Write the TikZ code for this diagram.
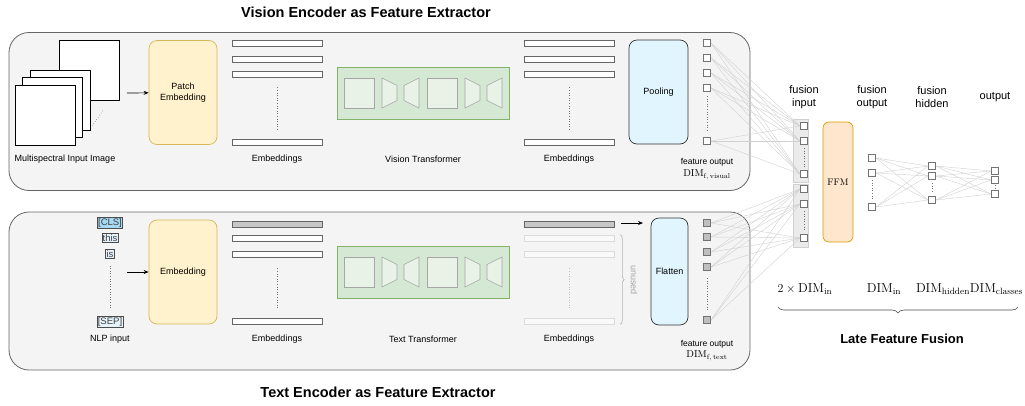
\documentclass[tikz,border=0pt]{standalone}
\usepackage{fontspec}
\usepackage{tikz}
\usetikzlibrary{arrows.meta,decorations.pathreplacing}
\newfontfamily\arial{Liberation Sans}
\definecolor{panelgray}{HTML}{F4F4F4}
\definecolor{patchfill}{HTML}{FFF2CC}
\definecolor{patchline}{HTML}{D6B656}
\definecolor{poolfill}{HTML}{E1F5FE}
\definecolor{tffill}{HTML}{D5E8D4}
\definecolor{tfline}{HTML}{82B366}
\definecolor{ffmfill}{HTML}{FFE6CC}
\definecolor{ffmline}{HTML}{D79B00}
\definecolor{clsfill}{HTML}{A8D8F2}
\definecolor{tokfill}{HTML}{E6F3FA}
\tikzset{
  tfinner/.pic={
    \foreach \dx in {-64,19}{
      \draw[inner] (\dx-15,-15) rectangle (\dx+15,15);
      \draw[inner] (\dx+23,-15) -- (\dx+38,-7.5) -- (\dx+38,7.5) -- (\dx+23,15) -- cycle;
      \draw[inner] (\dx+45,-7.5) -- (\dx+60,-15) -- (\dx+60,15) -- (\dx+45,7.5) -- cycle;
    }}
}

\begin{document}
\begin{tikzpicture}[x=1pt,y=-1pt,
    panel/.style={draw=black!60,fill=panelgray,rounded corners=20pt,line width=.8pt,
      minimum width=741pt,minimum height=158pt},
    lbl/.style={font=\arial\fontsize{9}{10.5}\selectfont,align=center,inner sep=1pt},
    small/.style={font=\arial\fontsize{8.5}{10}\selectfont,align=center,inner sep=1pt},
    head/.style={font=\arial\bfseries\fontsize{14.5}{17}\selectfont},
    flabel/.style={font=\arial\fontsize{11}{12.5}\selectfont,align=center},
    dimlbl/.style={font=\fontsize{13}{15}\selectfont,inner sep=0pt},
    img/.style={draw,fill=white,line width=.8pt,minimum size=60pt},
    yblock/.style={lbl,draw=patchline,fill=patchfill,rounded corners=8pt,line width=.7pt,
      minimum width=68pt,minimum height=104pt},
    bblock/.style={lbl,draw=black!80,fill=poolfill,rounded corners=8pt,line width=.7pt,
      minimum height=104pt},
    tfbox/.style={draw=tfline,fill=tffill,line width=.7pt,minimum width=172pt,minimum height=52pt},
    inner/.style={draw=black!35,fill=white!45!tffill,line width=.6pt},
    bar/.style={draw=black!60,fill=white,minimum width=90pt,minimum height=6pt,inner sep=0pt,line width=.6pt},
    gbar/.style={bar,fill=black!22},
    fbar/.style={bar,draw=black!14,fill=white!50!panelgray},
    sq/.style={draw=black!55,fill=white,minimum size=7.5pt,inner sep=0pt,line width=.6pt},
    gsq/.style={sq,fill=black!25},
    grp/.style={draw=black!18,fill=black!8,minimum width=15pt,minimum height=63pt,line width=.6pt},
    tok/.style={draw=black!70,fill=tokfill,font=\arial\fontsize{9.5}{10}\selectfont,inner sep=.8pt,
      text=black!75,line width=.6pt},
    dots/.style={dotted,draw=black!55,line width=.6pt},
    link/.style={draw=black!18,line width=.4pt},
    arr/.style={-{Stealth[length=5pt,width=4pt]},line width=.7pt},
    brc/.style={decorate,draw=black!30,line width=.6pt}]
  \useasboundingbox (0,0) rectangle (1025,405);

  \node[head] (vtitle) at (366,12) {Vision Encoder as Feature Extractor};
  \node[head] (ttitle) at (378,392) {Text Encoder as Feature Extractor};
  \node[panel] (vpanel) at (379.5,111.5) {};
  \node[panel] (tpanel) at (379.5,291) {};

  \node[img] (im4) at (89,70) {};
  \node[img] (im3) at (60,100) {};
  \node[img] (im2) at (52,107) {};
  \node[img] (im1) at (45,115) {};
  \draw[dots] (92,126) -- (104,109);
  \node[lbl] (imlbl) at (65,159) {Multispectral Input Image};
  \node[yblock] (patch) at (183,92.5) {Patch\\Embedding};
  \coordinate (imgout) at (127,93);
  \draw[arr] (imgout) -- (patch);

  \foreach \y [count=\i] in {43,59,74,142} {
    \node[bar] (ve\i) at (277,\y) {};
    \node[bar] (vo\i) at (569,\y) {};
  }
  \draw[dots,shorten <=10pt,shorten >=9pt] (ve3) -- (ve4);
  \draw[dots,shorten <=10pt,shorten >=9pt] (vo3) -- (vo4);
  \node[lbl] (velbl) at (277,159) {Embeddings};
  \node[lbl] (volbl) at (569,159) {Embeddings};
  \node[tfbox] (vit) at (423,93) {};
  \pic at (vit.center) {tfinner};
  \node[lbl] (vitlbl) at (423,159) {Vision Transformer};

  \node[bblock,minimum width=59pt] (pool) at (658.5,92) {Pooling};
  \foreach \y [count=\i] in {43,58,73,88,141}
    \node[sq] (vf\i) at (707,\y) {};
  \draw[dots,shorten <=4pt,shorten >=5pt] (vf4) -- (vf5);
  \node[small] (vflbl) at (707,162) {feature output};
  \node[font=\fontsize{10}{12}\selectfont,inner sep=0pt] (vfdim) at (707,175) {$\mathrm{DIM}_{\mathrm{f,\,visual}}$};

  \node[tok,fill=clsfill] (cls) at (110,223) {[CLS]};
  \node[tok] (this) at (110,238) {this};
  \node[tok] (is) at (110,254) {is};
  \node[tok] (sep) at (110,322) {[SEP]};
  \draw[dots,shorten <=7pt,shorten >=7pt] (is) -- (sep);
  \node[lbl] (nlplbl) at (110,339) {NLP input};
  \node[yblock] (temb) at (183,272) {Embedding};
  \coordinate (tokout) at (127,272);
  \draw[arr] (tokout) -- (temb);

  \node[gbar] (te1) at (277,224) {};
  \node[gbar] (to1) at (569,224) {};
  \foreach \y [count=\i from 2] in {238,254,321} {
    \node[bar] (te\i) at (277,\y) {};
    \node[fbar] (to\i) at (569,\y) {};
  }
  \draw[dots,shorten <=11pt,shorten >=8pt] (te3) -- (te4);
  \draw[dots,draw=black!25,shorten <=11pt,shorten >=8pt] (to3) -- (to4);
  \node[lbl] (telbl) at (277,339) {Embeddings};
  \node[lbl] (tolbl) at (569,339) {Embeddings};
  \node[tfbox] (ttf) at (423,272) {};
  \pic at (ttf.center) {tfinner};
  \node[lbl] (ttflbl) at (423,339) {Text Transformer};
  \draw[brc,decoration={brace,amplitude=4pt}] ([xshift=6pt]to2.north east) -- ([xshift=6pt]to4.south east);
  \node[lbl,text=black!35,rotate=-90] (unused) at (634,280) {unused};

  \node[bblock,minimum width=37pt,minimum height=107pt] (flat) at (669.5,271.5) {Flatten};
  \coordinate (clsout) at (621,223);
  \coordinate (flatin) at (643,223);
  \draw[arr] (clsout) -- (flatin);
  \foreach \y [count=\i] in {223,237,252,267,320}
    \node[gsq] (tf\i) at (707,\y) {};
  \draw[dots,shorten <=7pt,shorten >=6pt] (tf4) -- (tf5);
  \node[small] (tflbl) at (707,344) {feature output};
  \node[font=\fontsize{10}{12}\selectfont,inner sep=0pt] (tfdim) at (707,356) {$\mathrm{DIM}_{\mathrm{f,\,text}}$};

  \node[grp] (grp1) at (800.5,150.5) {};
  \node[grp] (grp2) at (800.5,215.5) {};
  \foreach \y [count=\i] in {126,141,174,189,204,238}
    \node[sq] (fi\i) at (804,\y) {};
  \draw[dots,shorten <=3pt,shorten >=3pt] (fi2) -- (fi3);
  \draw[dots,shorten <=3pt,shorten >=3pt] (fi5) -- (fi6);
  \node[draw=ffmline,fill=ffmfill,rounded corners=6pt,line width=.7pt,minimum width=30pt,minimum height=120pt,
    font=\fontsize{9.5}{11}\selectfont] (ffm) at (838,182) {FFM};
  \foreach \y [count=\i] in {158,173,207}
    \node[sq] (fo\i) at (872,\y) {};
  \foreach \y [count=\i] in {166,176,200}
    \node[sq] (fh\i) at (932,\y) {};
  \foreach \y [count=\i] in {171,180,194}
    \node[sq] (out\i) at (995,\y) {};
  \draw[dots,shorten <=3pt,shorten >=3pt] (fo2) -- (fo3);
  \draw[dots,shorten <=3pt,shorten >=3pt] (fh2) -- (fh3);
  \draw[dots,shorten <=1pt,shorten >=1pt] (out2) -- (out3);

  \foreach \a in {1,...,5} {
    \foreach \b in {1,2,3}
      \draw[link] (vf\a.east) -- (fi\b.west);
    \foreach \b in {4,5,6}
      \draw[link] (tf\a.east) -- (fi\b.west);
  }
  \foreach \a in {1,2,3}
    \foreach \b in {1,2,3} {
      \draw[link] (fo\a.east) -- (fh\b.west);
      \draw[link] (fh\a.east) -- (out\b.west);
    }

  \node[flabel] (filbl) at (804,97) {fusion\\input};
  \node[flabel] (folbl) at (872,97) {fusion\\output};
  \node[flabel] (fhlbl) at (932,97) {fusion\\hidden};
  \node[flabel] (outlbl) at (995,97) {output};
  \node[dimlbl] (d1) at (805,289) {$2\times\mathrm{DIM}_{\mathrm{in}}$};
  \node[dimlbl] (d2) at (884,289) {$\mathrm{DIM}_{\mathrm{in}}$};
  \node[dimlbl] (d3) at (943,289) {$\mathrm{DIM}_{\mathrm{hidden}}$};
  \node[dimlbl] (d4) at (996.5,289) {$\mathrm{DIM}_{\mathrm{classes}}$};
  \draw[brc,draw=black!70,decoration={brace,amplitude=6pt}] (1018,307) -- (778,307);
  \node[head,font=\arial\bfseries\fontsize{13}{15}\selectfont] (lff) at (902,339) {Late Feature Fusion};
\end{tikzpicture}
\end{document}
